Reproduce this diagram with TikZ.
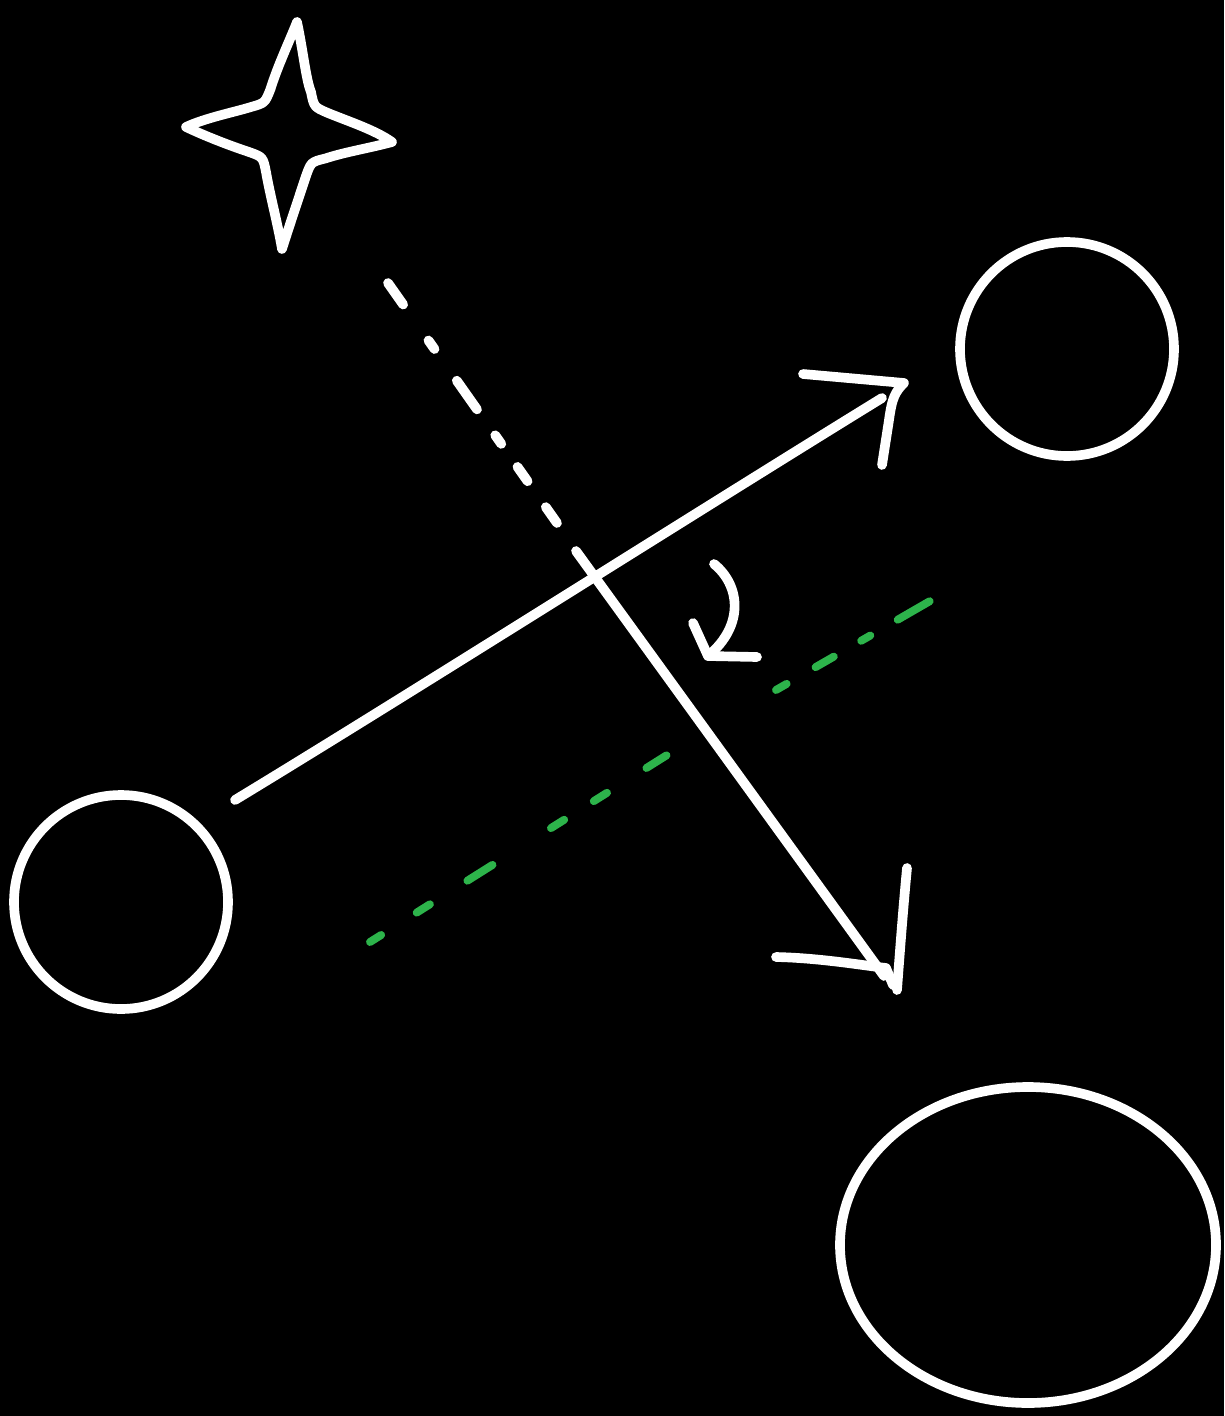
\documentclass[tikz,border=0pt]{standalone}
\usetikzlibrary{shapes.geometric}
\begin{document}
\begin{tikzpicture}[x=0.02cm,y=-0.02cm,
  chalk/.style={draw=white,line width=5.5pt,line cap=round,line join=round},
  greenline/.style={draw={rgb,255:red,45;green,180;blue,75},line width=4.5pt,line cap=round},
  greendashA/.style={greenline,dash pattern=on 7.5pt off 23.9pt on 8.9pt off 25.2pt on 16.9pt off 39.3pt on 8.9pt off 19.9pt on 8.9pt off 26.5pt on 13.5pt off 40pt},
  greendashB/.style={greenline,dash pattern=on 7pt off 19pt on 12pt off 18pt on 6pt off 18pt on 21pt off 30pt},
  whitedash/.style={chalk,dash pattern=on 15pt off 25pt on 6pt off 22pt on 20pt off 18pt on 6pt off 16pt on 10pt off 18pt},
  roundshape/.style={chalk,circle,inner sep=0pt}]
\fill[black] (0,0) rectangle (1224,1416);
\useasboundingbox (0,0) rectangle (1224,1416);

% circles / ellipse
\node[roundshape,minimum size=214*0.02cm] (c1) at (1067,349) {};
\node[roundshape,minimum size=214*0.02cm] (c2) at (121,902) {};
\node[chalk,ellipse,inner sep=0pt,minimum width=376*0.02cm,minimum height=316*0.02cm] (c3) at (1028,1245) {};

% star
\coordinate (sT) at (297,22);
\coordinate (sTR) at (314,107);
\coordinate (sR) at (392,142);
\coordinate (sBR) at (311,162);
\coordinate (sB) at (282,249);
\coordinate (sBL) at (263,157);
\coordinate (sL) at (186,127);
\coordinate (sTL) at (265,103);
\draw[chalk] (sT) .. controls (303,50) and (306,80) .. (311,92) .. controls (sTR) .. (328,113)
  .. controls (350,122) and (375,130) .. (sR) .. controls (370,148) and (345,152) .. (325.6,158.4) .. controls (sBR) .. (306,176)
  .. controls (298,200) and (288,230) .. (sB) .. controls (278,225) and (270,195) .. (266,172) .. controls (sBL) .. (249,152)
  .. controls (228,145) and (205,136) .. (sL) .. controls (205,118) and (235,112) .. (251,107) .. controls (sTL) .. (270.5,89) .. controls (278,65) and (290,40) .. (sT) -- cycle;

% dashed then solid line from star to lower arrow
\coordinate (d0) at (388,283);
\coordinate (d1) at (557,523);
\coordinate (a0) at (576,551);
\coordinate (a1) at (884,976);
\draw[whitedash] (d0) -- (d1);
\draw[chalk] (a0) -- (a1);
\coordinate (aB1) at (776,957);
\coordinate (aTip) at (893,985);
\coordinate (aB2) at (907,868);
\draw[chalk] (aB1) .. controls (820,958) and (860,965) .. (886,968) -- (aTip);
\draw[chalk] (aB2) .. controls (903,910) and (900,950) .. (897,990);

% solid arrow from left circle to upper right
\coordinate (b0) at (235,800);
\coordinate (b1) at (882,398);
\draw[chalk] (b0) .. controls (400,700) and (700,510) .. (b1);
\coordinate (bB1) at (803,374);
\coordinate (bTip) at (904,383);
\coordinate (bB2) at (882,465);
\draw[chalk] (bB1) -- (bTip) .. controls (895,392) and (892,398) .. (889,420) -- (bB2);

% small curved arrow
\coordinate (s0) at (714,564);
\coordinate (s1) at (708,656);
\draw[chalk] (s0) .. controls (740,585) and (745,625) .. (s1);
\coordinate (sb1) at (693,623);
\coordinate (sb2) at (757,657);
\draw[chalk] (sb1) -- (s1) -- (sb2);

% green dashed lines
\coordinate (g0) at (370,942);
\coordinate (g1) at (675,750);
\coordinate (g2) at (776,690);
\coordinate (g3) at (937,597);
\draw[greendashA] (g0) -- (g1);
\draw[greendashB] (g2) -- (g3);
\end{tikzpicture}
\end{document}
